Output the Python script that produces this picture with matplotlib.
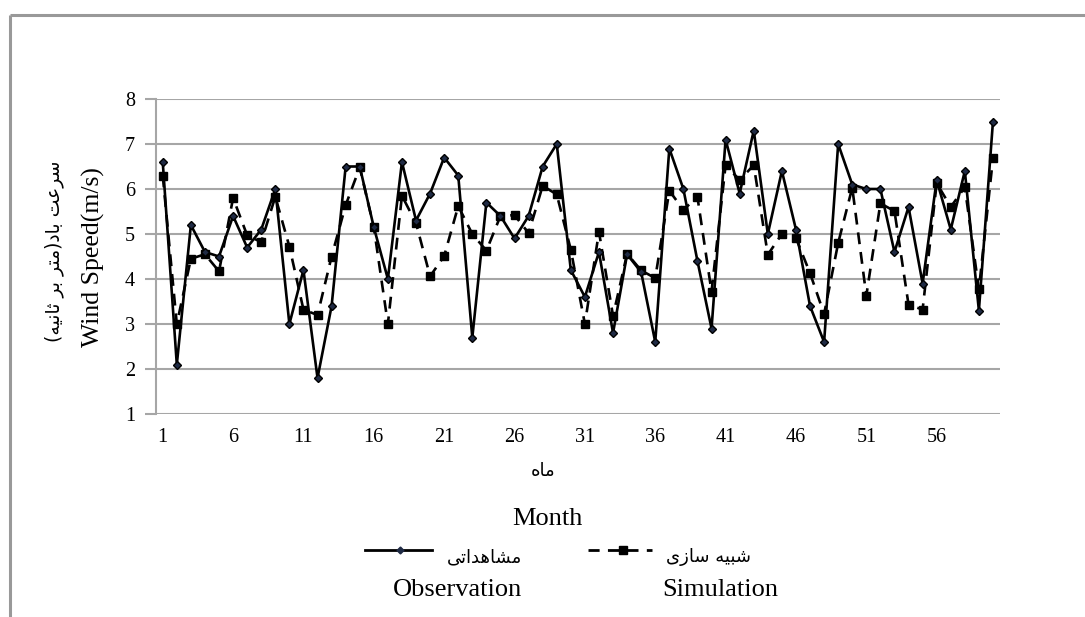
import matplotlib
matplotlib.use("Agg")
import matplotlib.pyplot as plt
from matplotlib.lines import Line2D

# monthly wind speed (m/s), months 1..60
months = list(range(1, 61))
observation = [6.6, 2.1, 5.2, 4.6, 4.5, 5.4, 4.7, 5.1, 6.0, 3.0,
               4.2, 1.8, 3.4, 6.5, 6.5, 5.15, 4.0, 6.6, 5.3, 5.9,
               6.7, 6.3, 2.7, 5.7, 5.4, 4.9, 5.4, 6.5, 7.0, 4.2,
               3.6, 4.6, 2.8, 4.55, 4.15, 2.6, 6.9, 6.0, 4.4, 2.9,
               7.1, 5.9, 7.3, 5.0, 6.4, 5.1, 3.4, 2.6, 7.0, 6.1,
               6.0, 6.0, 4.6, 5.6, 3.9, 6.2, 5.1, 6.4, 3.3, 7.5]
simulation = [6.3, 3.0, 4.45, 4.55, 4.17, 5.8, 4.97, 4.82, 5.83, 4.72,
              3.32, 3.2, 4.5, 5.64, 6.48, 5.15, 3.0, 5.85, 5.24, 4.06,
              4.51, 5.62, 5.0, 4.63, 5.4, 5.42, 5.02, 6.07, 5.88, 4.65,
              3.0, 5.05, 3.18, 4.56, 4.19, 4.02, 5.96, 5.54, 5.82, 3.72,
              6.53, 6.2, 6.53, 4.54, 5.0, 4.91, 4.13, 3.22, 4.8, 6.03,
              3.63, 5.68, 5.51, 3.43, 3.32, 6.13, 5.6, 6.04, 3.77, 6.68]
xticks = [1, 6, 11, 16, 21, 26, 31, 36, 41, 46, 51, 56]
yticks = [1, 2, 3, 4, 5, 6, 7, 8]

# Persian strings, pre-shaped (presentation forms, visual order)
fa_month = "\uFEE9\uFE8E\uFEE3"                                  # ماه
fa_obs = "\uFEF0\uFE97\uFE8D\uFEAA\uFEEB\uFE8E\uFEB8\uFEE3"       # مشاهداتی
fa_sim = "\uFEEF\uFEAF\uFE8E\uFEB3 \uFEEA\uFEF4\uFE92\uFEB7"      # شبیه سازی
fa_ylab = ("(\uFEEA\uFEF4\uFEE7\uFE8E\uFE9B \uFEAE\uFE91 \uFEAE\uFE98\uFEE3)"
           "\uFEA9\uFE8E\uFE91 \uFE96\uFECB\uFEAE\uFEB3")          # سرعت باد(متر بر ثانیه)

serif = ["Liberation Serif", "DejaVu Serif"]
arab = ["DejaVu Sans"]

W, H = 1085, 617
fig = plt.figure(figsize=(W / 100, H / 100), dpi=100)
fig.patch.set_facecolor("white")

ax = fig.add_axes([155.7 / W, 1 - 414 / H, (1000 - 155.7) / W, (414 - 99) / H])
ax.plot(months, observation, color="black", lw=1.9, marker="D", ms=3.6,
        mfc="#1f2a44", mec="black", zorder=3)
ax.plot(months, simulation, color="black", lw=1.9, ls=(0, (4.5, 3)), marker="s",
        ms=6, mfc="black", mec="black", zorder=2)

ax.set_xlim(0.5, 60.5)
ax.set_ylim(1, 8)
ax.set_yticks(yticks)
ax.set_xticks(xticks)
ax.set_xticklabels([str(t) for t in xticks], family=serif, fontsize=14.5)
ax.set_yticklabels([str(t) for t in yticks], family=serif, fontsize=14.5)
ax.grid(axis="y", color="#a6a6a6", lw=1.5)
ax.set_axisbelow(True)
for s in ["top", "right", "bottom"]:
    ax.spines[s].set_visible(False)
ax.spines["left"].set_color("#a6a6a6")
ax.spines["left"].set_linewidth(1.5)
ax.tick_params(axis="y", length=8, width=1.5, color="#a6a6a6", pad=7)
ax.tick_params(axis="x", length=0, pad=10)

# overlay in pixel coordinates for labels, legend and frame
ov = fig.add_axes([0, 0, 1, 1], zorder=-1)
ov.set_xlim(0, W)
ov.set_ylim(H, 0)
ov.axis("off")
ov.plot([10, W], [15, 15], color="#999999", lw=2.2, solid_capstyle="butt")
ov.plot([10, 10], [15, H], color="#999999", lw=2.2, solid_capstyle="butt")

ov.text(54, 251, fa_ylab, rotation=90, ha="center", va="center", family=arab, fontsize=13.5)
ov.text(93, 257, "Wind Speed(m/s)", rotation=90, ha="center", va="center",
        family=serif, fontsize=18.5)
ov.text(543, 471, fa_month, ha="center", va="center", family=arab, fontsize=13)
ov.text(547, 519, "Month", ha="center", va="center", family=serif, fontsize=19)

# legend
ov.add_line(Line2D([365, 432], [550, 550], color="black", lw=2))
ov.add_line(Line2D([400], [550], marker="D", ms=3.5, color="#1f2a44"))
ov.text(484, 557, fa_obs, ha="center", va="center", family=arab, fontsize=13)
ov.text(458, 590, "Observation", ha="center", va="center", family=serif, fontsize=19)
ov.add_line(Line2D([588, 652], [550, 550], color="black", lw=2, ls=(0, (4, 3))))
ov.add_line(Line2D([623], [550], marker="s", ms=6, color="black"))
ov.text(708, 557, fa_sim, ha="center", va="center", family=arab, fontsize=13)
ov.text(720, 590, "Simulation", ha="center", va="center", family=serif, fontsize=19)

fig.savefig("out.png", dpi=100)
